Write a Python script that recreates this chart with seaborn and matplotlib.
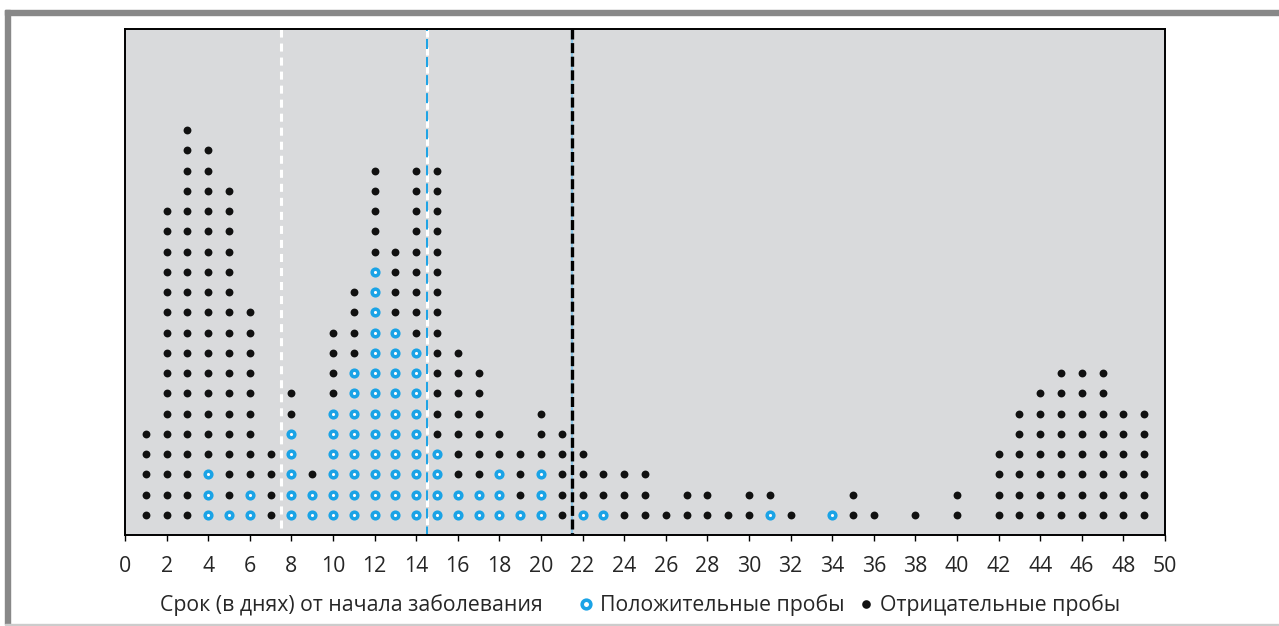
import matplotlib
matplotlib.use("Agg")
import matplotlib.pyplot as plt
import seaborn as sns
import pandas as pd
from matplotlib.lines import Line2D
from matplotlib.patches import Rectangle

# ---- data ----
days = list(range(1, 50))
positive = [0, 0, 0, 3, 1, 2, 0, 5, 2, 6, 8, 13, 10, 9, 4, 2, 2, 3, 1, 3,
            0, 1, 1, 0, 0, 0, 0, 0, 0, 0, 1, 0, 0, 1, 0, 0, 0, 0, 0, 0,
            0, 0, 0, 0, 0, 0, 0, 0, 0]
negative = [5, 16, 20, 16, 16, 9, 4, 2, 1, 4, 4, 5, 4, 9, 14, 7, 6, 2, 3, 3,
            5, 3, 2, 3, 3, 1, 2, 2, 1, 2, 1, 1, 0, 0, 2, 1, 0, 1, 0, 2,
            0, 4, 6, 7, 8, 8, 8, 6, 6]
ref_lines = [7.5, 14.5, 21.5]
xticks = list(range(0, 51, 2))
xlabel = "Срок (в днях) от начала заболевания"
label_pos = "Положительные пробы"
label_neg = "Отрицательные пробы"

# ---- build stacked dot table ----
rows = []
for d, p, n in zip(days, positive, negative):
    level = 1
    for _ in range(p):
        rows.append({"day": d, "level": level, "result": "pos"})
        level += 1
    for _ in range(n):
        rows.append({"day": d, "level": level, "result": "neg"})
        level += 1
df = pd.DataFrame(rows)

sns.set_theme(style="white")
plt.rcParams["font.family"] = ["Open Sans", "DejaVu Sans"]
plt.rcParams["lines.scale_dashes"] = False

W, H = 1279, 626
FS = 15.3
fig = plt.figure(figsize=(W / 100, H / 100), dpi=100)
fig.patch.set_facecolor("white")
ax = fig.add_axes([125 / W, 1 - 535 / H, 1040 / W, 506 / H])
ax.set_facecolor("#d9dadc")

BLUE = "#1aa3e6"

# reference lines
top, bottom = 25, 0
ax.plot([ref_lines[0]] * 2, [top, bottom], color="white", lw=2.2,
        linestyle=(0, (5.8, 4.3)), zorder=1)
ax.plot([ref_lines[1]] * 2, [top, bottom], color="white", lw=2.2,
        linestyle=(0, (5.8, 7.2)), zorder=1)
ax.plot([ref_lines[1]] * 2, [top, bottom], color=BLUE, lw=1.4,
        linestyle=(5.8, (7.2, 5.8)), zorder=1)
ax.plot([ref_lines[2]] * 2, [top, bottom], color="#8fc8e8", lw=1.6,
        linestyle="-", zorder=1)
ax.plot([ref_lines[2]] * 2, [top, bottom], color="black", lw=2.4,
        linestyle=(0, (7.2, 2.6)), zorder=2)

sns.scatterplot(data=df[df.result == "neg"], x="day", y="level", ax=ax,
                color="#111111", s=32, linewidth=0, zorder=3, legend=False)
sns.scatterplot(data=df[df.result == "pos"], x="day", y="level", ax=ax,
                facecolor="white", edgecolor=BLUE, s=23, linewidth=2.5,
                zorder=3, legend=False)

ax.set_xlim(0, 50)
ax.set_ylim(bottom, top)
ax.set_yticks([])
ax.set_ylabel("")
ax.set_xticks(xticks)
ax.set_xticklabels([str(t) for t in xticks])
ax.tick_params(axis="x", direction="out", length=4.5, width=1, color="black",
               labelsize=FS, pad=10.5, bottom=True)
for s in ax.spines.values():
    s.set_color("black")
    s.set_linewidth(1.4)
    s.set_visible(True)

ax.set_xlabel("")
fig.text(351 / W, 1 - 605 / H, xlabel, ha="center", va="center", fontsize=FS)

handles = [
    Line2D([], [], marker="o", linestyle="none", markersize=6.2,
           markerfacecolor="white", markeredgecolor=BLUE, markeredgewidth=2.6),
    Line2D([], [], marker="o", linestyle="none", markersize=6.2,
           markerfacecolor="#111111", markeredgewidth=0),
]
fig.legend(handles, [label_pos, label_neg], ncol=2, frameon=False,
           loc="center left", bbox_to_anchor=(580 / W, 1 - 605 / H),
           fontsize=FS, handlelength=0.6, handletextpad=0.35,
           columnspacing=0.7, borderpad=0, borderaxespad=0)

# figure border
fig.patches.append(Rectangle((5 / W, 1 - 15 / H), 1 - 5 / W, 5 / H,
                             transform=fig.transFigure, color="#888888",
                             zorder=0))
fig.patches.append(Rectangle((5 / W, 1 - 624 / H), 5 / W, 614 / H,
                             transform=fig.transFigure, color="#888888",
                             zorder=0))
fig.patches.append(Rectangle((5 / W, 1 - 625 / H), 1 - 5 / W, 1 / H,
                             transform=fig.transFigure, color="#cccccc",
                             zorder=0))

fig.savefig("out.png", dpi=100)
